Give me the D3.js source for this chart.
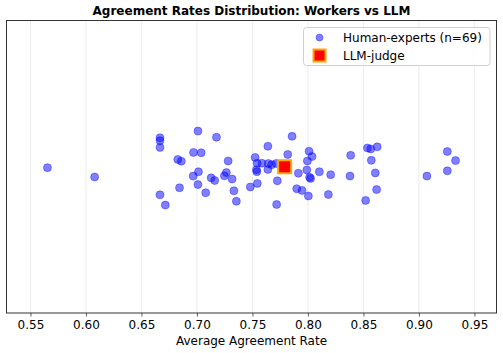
<!DOCTYPE html>
<html>
<head>
<meta charset="utf-8">
<script src="https://cdn.jsdelivr.net/npm/d3@7"></script>
<style>
  body { margin: 0; background: #fff; }
  text { font-family: "DejaVu Sans", sans-serif; }
</style>
</head>
<body>
<svg id="chart"></svg>
<script>
// human expert average agreement rates (x) and their vertical jitter (y)
let humanRates = [
    0.5653, 0.6078, 0.6667, 0.6667, 0.6667, 0.6827, 0.6859, 0.6667, 0.6715, 0.6843,
    0.7009, 0.6969, 0.7038, 0.7014, 0.6966, 0.7009, 0.7079, 0.7176, 0.7281, 0.7128,
    0.7160, 0.7247, 0.7265, 0.7317, 0.7333, 0.7355, 0.7481, 0.7524, 0.7542, 0.7536,
    0.7540, 0.7544, 0.7585, 0.7639, 0.7643, 0.7639, 0.7713, 0.7724, 0.7718, 0.7818,
    0.7857, 0.7914, 0.7899, 0.7947, 0.8010, 0.8037, 0.7995, 0.7990, 0.8024, 0.8004,
    0.8103, 0.8205, 0.8184, 0.8385, 0.8379, 0.8536, 0.8566, 0.8624, 0.8571, 0.8607,
    0.8619, 0.8520, 0.9072, 0.9256, 0.9330, 0.9256, 0.8015, 0.7673, 0.7773
];
let humanJitter = [
    -0.003, -0.035, 0.099, 0.089, 0.066, 0.025, 0.019, -0.096, -0.131, -0.072,
    0.122, 0.049, 0.048, -0.017, -0.032, -0.061, -0.089, 0.101, 0.020, -0.038,
    -0.047, -0.031, -0.020, -0.042, -0.082, -0.118, -0.069, 0.032, 0.012, -0.010,
    -0.017, -0.057, 0.012, 0.070, 0.011, -0.009, 0.011, -0.048, -0.129, 0.042,
    0.104, -0.022, -0.075, -0.081, 0.053, 0.035, 0.020, -0.011, -0.040, -0.100,
    -0.017, -0.027, -0.095, 0.039, -0.032, 0.064, 0.061, 0.068, 0.022, -0.021,
    -0.078, -0.115, -0.032, 0.052, 0.021, -0.014, -0.036, 0.007, -0.009
];
let llmRate = 0.779;
let xTicks = [0.55, 0.60, 0.65, 0.70, 0.75, 0.80, 0.85, 0.90, 0.95];
let legendLabels = ['Human-experts (n=69)', 'LLM-judge'];

let width = 503, height = 353;
let margin = {top: 20.5, right: 6.5, bottom: 40, left: 6.5};

let svg = d3.select('#chart')
    .attr('width', width)
    .attr('height', height);

let xScale = d3.scaleLinear()
    .domain([0.5284, 0.9699])
    .range([margin.left, width - margin.right]);

let yScale = d3.scaleLinear()
    .domain([-0.5, 0.5])
    .range([height - margin.bottom, margin.top]);

// grid lines
svg.append('g')
    .selectAll('line')
    .data(xTicks)
    .enter()
    .append('line')
    .attr('x1', function (d) { return xScale(d); })
    .attr('x2', function (d) { return xScale(d); })
    .attr('y1', margin.top)
    .attr('y2', height - margin.bottom)
    .attr('stroke', '#b0b0b0')
    .attr('stroke-opacity', 0.3)
    .attr('stroke-width', 0.8);

// x axis
let xAxis = d3.axisBottom(xScale)
    .tickValues(xTicks)
    .tickFormat(d3.format('.2f'))
    .tickSize(3.5)
    .tickPadding(3.5);
let xg = svg.append('g')
    .attr('transform', 'translate(0,' + (height - margin.bottom) + ')')
    .call(xAxis);
xg.select('.domain').remove();
xg.selectAll('line').attr('stroke', '#333').attr('stroke-width', 0.8);
xg.selectAll('text')
    .style('font-family', '"DejaVu Sans", sans-serif')
    .style('font-size', '12px')
    .attr('fill', '#000');

// frame
svg.append('rect')
    .attr('x', margin.left)
    .attr('y', margin.top)
    .attr('width', width - margin.left - margin.right)
    .attr('height', height - margin.top - margin.bottom)
    .attr('fill', 'none')
    .attr('stroke', '#333')
    .attr('stroke-width', 1);

// human points
svg.append('g')
    .selectAll('circle')
    .data(humanRates)
    .enter()
    .append('circle')
    .attr('cx', function (d) { return xScale(d); })
    .attr('cy', function (d, i) { return yScale(humanJitter[i]); })
    .attr('r', 4)
    .attr('fill', 'blue')
    .attr('fill-opacity', 0.5)
    .attr('stroke', 'blue')
    .attr('stroke-opacity', 0.35)
    .attr('stroke-width', 1);

// LLM judge
svg.append('rect')
    .attr('x', xScale(llmRate) - 6.5)
    .attr('y', yScale(0) - 6.5)
    .attr('width', 13)
    .attr('height', 13)
    .attr('fill', 'red')
    .attr('stroke', 'orange')
    .attr('stroke-width', 2);

// title
svg.append('text')
    .attr('x', (margin.left + width - margin.right) / 2)
    .attr('y', 15)
    .attr('text-anchor', 'middle')
    .style('font-size', '12px')
    .style('font-weight', 'bold')
    .text('Agreement Rates Distribution: Workers vs LLM');

// axis label
svg.append('text')
    .attr('x', (margin.left + width - margin.right) / 2)
    .attr('y', 345)
    .attr('text-anchor', 'middle')
    .style('font-size', '12px')
    .text('Average Agreement Rate');

// legend
let legend = svg.append('g');
legend.append('rect')
    .attr('x', 303.5)
    .attr('y', 27.5)
    .attr('width', 186.5)
    .attr('height', 38)
    .attr('rx', 3)
    .attr('fill', 'white')
    .attr('fill-opacity', 0.8)
    .attr('stroke', '#d0d0d0')
    .attr('stroke-width', 1);
legend.append('circle')
    .attr('cx', 319.5)
    .attr('cy', 37.5)
    .attr('r', 3.5)
    .attr('fill', 'blue')
    .attr('fill-opacity', 0.5)
    .attr('stroke', 'blue')
    .attr('stroke-opacity', 0.35);
legend.append('rect')
    .attr('x', 313.5)
    .attr('y', 49.5)
    .attr('width', 12)
    .attr('height', 12)
    .attr('fill', 'red')
    .attr('stroke', 'orange')
    .attr('stroke-width', 2);
legend.selectAll('text.lab')
    .data(legendLabels)
    .enter()
    .append('text')
    .attr('class', 'lab')
    .attr('x', 343)
    .attr('y', function (d, i) { return 41.8 + i * 18.2; })
    .style('font-size', '12px')
    .text(function (d) { return d; });
</script>
</body>
</html>
